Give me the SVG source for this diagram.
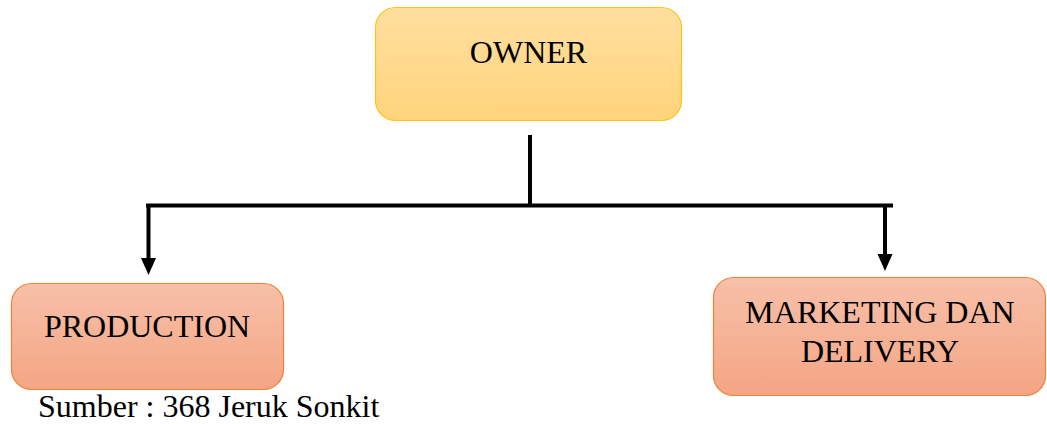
<svg xmlns="http://www.w3.org/2000/svg" width="1047" height="424" viewBox="0 0 1047 424">
<style>
.t{font-family:"Liberation Serif","Times New Roman",serif;font-size:32px;fill:#000;text-anchor:middle}
.c{stroke:#000;stroke-width:4;fill:none}
.ah{fill:#000}
</style>
<defs>
<linearGradient id="gy" x1="0" y1="0" x2="0" y2="1"><stop offset="0" stop-color="#FFDF9F"/><stop offset="1" stop-color="#FFD47C"/></linearGradient>
<linearGradient id="go" x1="0" y1="0" x2="0" y2="1"><stop offset="0" stop-color="#F7C0A8"/><stop offset="1" stop-color="#F4A584"/></linearGradient>
</defs>
<rect width="1047" height="424" fill="#fff"/>
<g id="owner">
<rect x="375.5" y="7.5" width="306" height="113" rx="20" fill="url(#gy)" stroke="#FFC21A" stroke-width="1.2"/>
<text class="t" x="528.5" y="63">OWNER</text>
</g>
<g id="production">
<rect x="11.5" y="283.5" width="272" height="106" rx="20" fill="url(#go)" stroke="#EE8236" stroke-width="1.2"/>
<text class="t" x="147" y="337">PRODUCTION</text>
</g>
<g id="marketing">
<rect x="713.5" y="277.5" width="332" height="118" rx="20" fill="url(#go)" stroke="#EE8236" stroke-width="1.2"/>
<text class="t" x="880" y="323">MARKETING DAN</text>
<text class="t" x="880" y="362">DELIVERY</text>
</g>
<g id="connectors">
<line class="c" x1="530" y1="135" x2="530" y2="207"/>
<line class="c" x1="146" y1="205.5" x2="893" y2="205.5"/>
<path class="c" d="M148.5,205.5 V258"/>
<path class="ah" d="M141,258 L156,258 L148.5,275 Z"/>
<path class="c" d="M885,205.5 V254"/>
<path class="ah" d="M877.5,254 L892.5,254 L885,271 Z"/>
</g>
<text class="t" x="38" y="417" style="text-anchor:start">Sumber : 368 Jeruk Sonkit</text>
</svg>
